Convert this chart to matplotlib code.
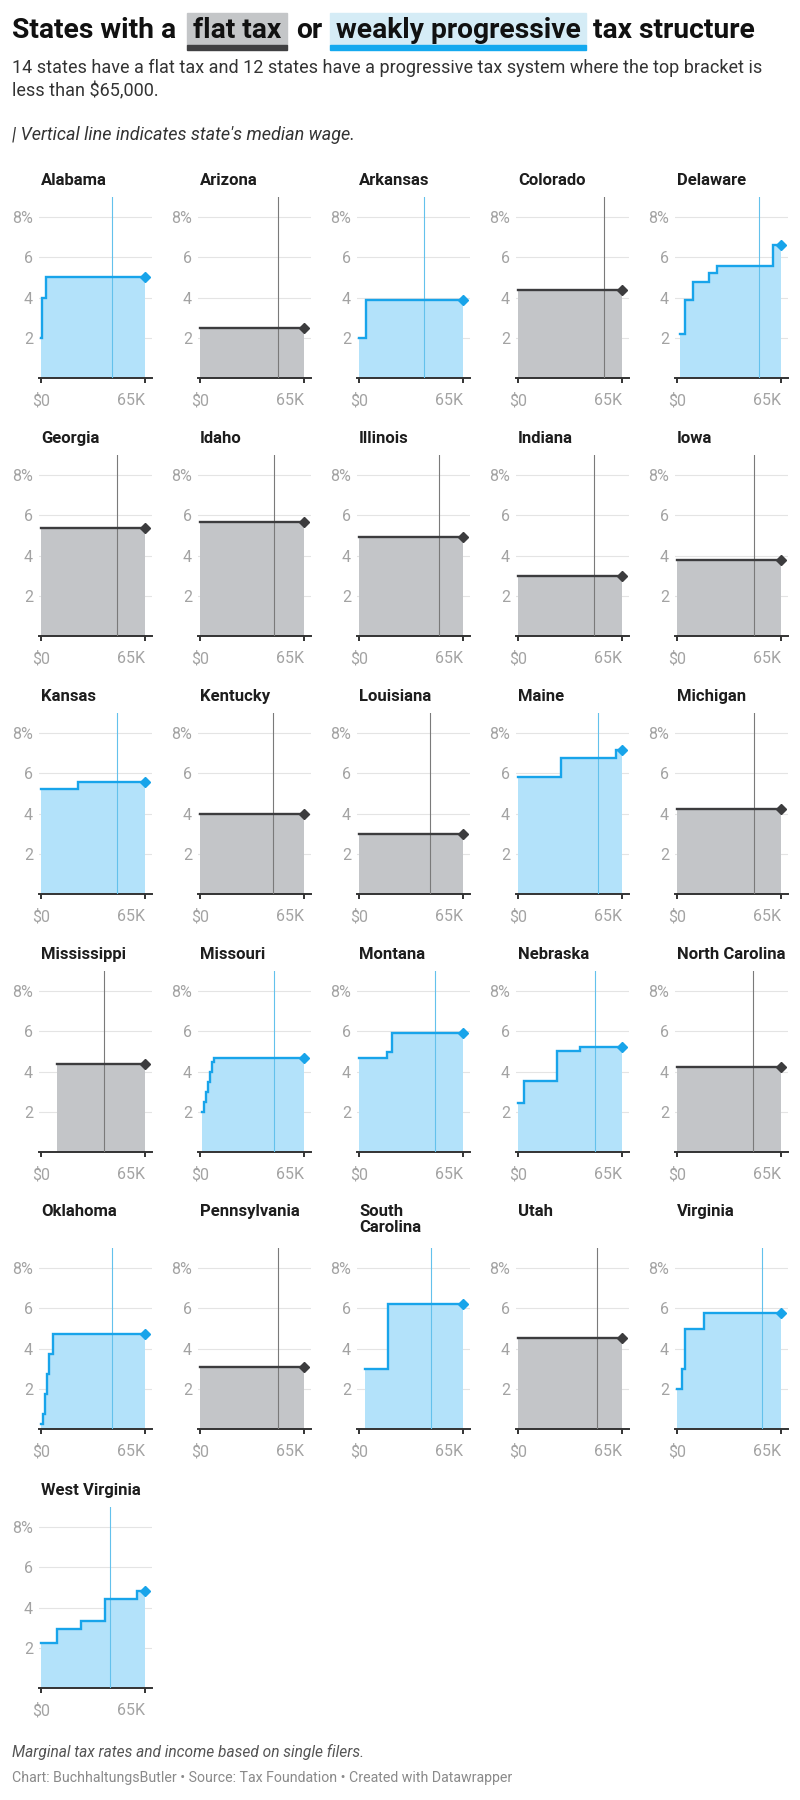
import matplotlib
matplotlib.use("Agg")
import matplotlib.pyplot as plt
from matplotlib.patches import Rectangle

plt.rcParams['font.family'] = ['Roboto', 'DejaVu Sans']

# ---- data -------------------------------------------------------------
states = ['Alabama', 'Arizona', 'Arkansas', 'Colorado', 'Delaware',
          'Georgia', 'Idaho', 'Illinois', 'Indiana', 'Iowa',
          'Kansas', 'Kentucky', 'Louisiana', 'Maine', 'Michigan',
          'Mississippi', 'Missouri', 'Montana', 'Nebraska', 'North Carolina',
          'Oklahoma', 'Pennsylvania', 'South\nCarolina', 'Utah', 'Virginia',
          'West Virginia']

flat_tax = [False, True, False, True, False,
            True, True, True, True, True,
            False, True, True, False, True,
            True, False, False, False, True,
            False, True, False, True, False,
            False]

# income where each bracket starts, in thousand $
bracket_starts = [
    [0, 0.5, 3], [0], [0, 4.4], [0], [2, 5, 10, 20, 25, 60],
    [0], [0], [0], [0], [0],
    [0, 23], [0], [0], [0, 26.8, 61], [0],
    [10], [1.27, 2.55, 3.82, 5.09, 6.37, 7.64, 8.91], [0, 17.3, 20.5], [0, 4.03, 24.12, 38.87], [0],
    [0, 1, 2.5, 3.75, 4.9, 7.2], [0], [3.56, 17.83], [0], [0, 3, 5, 17],
    [0, 10, 25, 40, 60],
]

# marginal rate of each bracket, in %
bracket_rates = [
    [2, 4, 5], [2.5], [2, 3.9], [4.4], [2.2, 3.9, 4.8, 5.2, 5.55, 6.6],
    [5.39], [5.695], [4.95], [3.0], [3.8],
    [5.2, 5.58], [4.0], [3.0], [5.8, 6.75, 7.15], [4.25],
    [4.4], [2, 2.5, 3, 3.5, 4, 4.5, 4.7], [4.7, 5.0, 5.9], [2.46, 3.51, 5.01, 5.2], [4.25],
    [0.25, 0.75, 1.75, 2.75, 3.75, 4.75], [3.07], [3, 6.2], [4.55], [2, 3, 5, 5.75],
    [2.22, 2.96, 3.33, 4.44, 4.82],
]

# median wage, thousand $
median_wage = [44.2, 48.7, 40.7, 53.7, 51.0,
               47.3, 46.4, 49.7, 47.2, 47.9,
               47.3, 45.6, 44.4, 49.7, 47.9,
               39.4, 46.4, 47.5, 48.3, 47.3,
               44.2, 48.7, 44.8, 49.1, 52.9,
               43.1]

x_end = 65
y_ticks = [2, 4, 6, 8]
y_labels = ['2', '4', '6', '8%']
x_ticks = [0, 65]
x_labels = ['$0', '65K']

# ---- style ------------------------------------------------------------
BLUE_LINE = '#18a4ea'
BLUE_FILL = '#b3e2fa'
BLUE_MED = '#63c1ec'
GRAY_LINE = '#3c3c3e'
GRAY_FILL = '#c3c5c8'
GRAY_MED = '#7a7a7a'

W, H = 800, 1800
fig = plt.figure(figsize=(W / 100, H / 100), dpi=100)


def fx(x):
    return x / W


def fy(y):
    return 1 - y / H


# ---- header -----------------------------------------------------------
renderer = fig.canvas.get_renderer()
title_kw = dict(fontsize=20.3, fontweight='bold', color='#111111', va='baseline')
base = 38
cursor = 12


def plain(s, gap):
    global cursor
    t = fig.text(fx(cursor), fy(base), s, **title_kw)
    cursor += t.get_window_extent(renderer).width + gap


def boxed(s, fill, bar, gap, pad=6):
    global cursor
    t = fig.text(fx(cursor + pad), fy(base), s, **title_kw)
    w = t.get_window_extent(renderer).width + 2 * pad
    fig.add_artist(Rectangle((fx(cursor), fy(45)), w / W, 32 / H,
                             transform=fig.transFigure, color=fill, zorder=1))
    fig.add_artist(Rectangle((fx(cursor), fy(50)), w / W, 5 / H,
                             transform=fig.transFigure, color=bar, zorder=1))
    cursor += w + gap


plain('States with a', 11)
boxed('flat tax', '#c4c6c8', '#404042', 9)
plain('or', 7)
boxed('weakly progressive', '#d5ecf6', '#14a9ef', 7)
plain('tax structure', 0)

fig.text(fx(12), fy(59), '14 states have a flat tax and 12 states have a progressive tax system where the top bracket is\n'
         'less than $65,000.', fontsize=13, color='#333333', va='top', linespacing=1.35)
fig.text(fx(12), fy(126), "| Vertical line indicates state's median wage.",
         fontsize=13, color='#333333', style='italic', va='top')

# ---- small multiples --------------------------------------------------
col_x0 = [41 + 159 * i for i in range(5)]
row_zero = [378, 636, 894, 1152, 1429, 1688]
row_title = [182, 440, 698, 956, 1213, 1492]
px_per_k = 1.6
px_per_pct = 20.1
x_lo, x_hi = -1.25, 69.4

for i, name in enumerate(states):
    r, c = divmod(i, 5)
    left = col_x0[c] + x_lo * px_per_k
    width = (x_hi - x_lo) * px_per_k
    height = 9 * px_per_pct
    ax = fig.add_axes([fx(left), fy(row_zero[r]), width / W, height / H])

    flat = flat_tax[i]
    line_c = GRAY_LINE if flat else BLUE_LINE
    fill_c = GRAY_FILL if flat else BLUE_FILL
    med_c = GRAY_MED if flat else BLUE_MED

    xs = bracket_starts[i] + [x_end]
    ys = bracket_rates[i] + [bracket_rates[i][-1]]

    ax.fill_between(xs, ys, 0, step='post', color=fill_c, lw=0, zorder=2)
    ax.axvline(median_wage[i], color=med_c, lw=0.8, zorder=3)
    ax.step(xs, ys, where='post', color=line_c, lw=1.7, zorder=4,
            solid_joinstyle='miter')
    ax.plot([x_end], [ys[-1]], marker='D', ms=5, color=line_c, zorder=5,
            clip_on=False)

    ax.set_xlim(x_lo, x_hi)
    ax.set_ylim(0, 9)
    ax.set_yticks(y_ticks)
    ax.set_yticklabels(y_labels)
    ax.set_xticks(x_ticks)
    ax.set_xticklabels(x_labels)
    ax.get_xticklabels()[1].set_horizontalalignment('right')
    ax.grid(axis='y', color='#e4e4e4', lw=0.8, zorder=0)
    ax.set_axisbelow(True)
    for s in ['top', 'left', 'right']:
        ax.spines[s].set_visible(False)
    ax.spines['bottom'].set_color('#333333')
    ax.spines['bottom'].set_linewidth(1.4)
    ax.tick_params(axis='y', length=0, pad=4.3, labelsize=11.5, labelcolor='#a3a3a3')
    ax.tick_params(axis='x', length=3.6, width=1.4, color='#333333', pad=7,
                   labelsize=11.5, labelcolor='#a3a3a3')
    ax.set_facecolor('none')

    fig.text(fx(col_x0[c]), fy(row_title[r] - 9), name, fontsize=12,
             fontweight='bold', color='#1d1d1d', va='top', linespacing=1.1)

# ---- footer -----------------------------------------------------------
fig.text(fx(12), fy(1752), 'Marginal tax rates and income based on single filers.',
         fontsize=11.2, style='italic', color='#555555', va='center')
fig.text(fx(12), fy(1778), 'Chart: BuchhaltungsButler \u2022 Source: Tax Foundation \u2022 Created with Datawrapper',
         fontsize=10.2, color='#8a8a8a', va='center')

fig.savefig('out.png', dpi=100)
